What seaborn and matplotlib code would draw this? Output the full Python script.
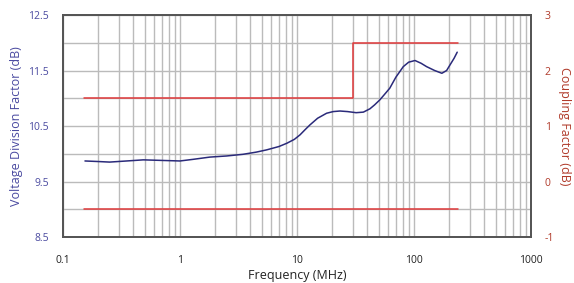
import seaborn as sns
import matplotlib.pyplot as plt
import pandas as pd
from matplotlib.ticker import LogLocator, FixedLocator, NullFormatter

# voltage division factor curve
freq_mhz = [0.154, 0.2, 0.25, 0.35, 0.485, 0.7, 1.0, 1.3, 1.8, 2.5, 3.45, 4.5, 5.5, 7.0,
            8.2, 9.5, 10.6, 11.8, 12.9, 15, 17.9, 20.4, 23.3, 27, 32, 36.9, 42, 46,
            51, 56, 62, 70, 81, 90, 102, 115, 128, 150, 173, 190, 203, 220, 234]
vdf_db = [9.87, 9.86, 9.85, 9.87, 9.89, 9.88, 9.87, 9.90, 9.94, 9.96, 9.99, 10.03, 10.07,
          10.13, 10.19, 10.26, 10.34, 10.44, 10.52, 10.64, 10.73, 10.76, 10.77, 10.76,
          10.74, 10.75, 10.81, 10.88, 10.97, 11.07, 11.18, 11.38, 11.57, 11.65, 11.68,
          11.63, 11.57, 11.50, 11.45, 11.50, 11.60, 11.72, 11.83]

# coupling factor limits
upper_freq = [0.15, 30, 240]
upper_db = [1.5, 2.5, 2.5]
lower_freq = [0.15, 240]
lower_db = [-0.5, -0.5]

blue = "#2a2a7a"
red = "#e0393a"
left_col = "#4a4aa0"
right_col = "#b03a2a"

sns.set_style("white")
plt.rcParams["font.family"] = ["Open Sans", "DejaVu Sans"]
plt.rcParams["axes.unicode_minus"] = False

fig = plt.figure(figsize=(5.74, 2.83), dpi=100)
ax = fig.add_axes([0.1098, 0.1625, 0.8153, 0.7845])
ax2 = ax.twinx()

vdf = pd.DataFrame({"f": freq_mhz, "v": vdf_db})
sns.lineplot(data=vdf, x="f", y="v", ax=ax, color=blue, lw=1.1)
sns.lineplot(x=upper_freq, y=upper_db, ax=ax2, color=red, lw=1.1, drawstyle="steps-post")
sns.lineplot(x=lower_freq, y=lower_db, ax=ax2, color=red, lw=1.1)

ax.set_xscale("log")
ax.set_xlim(0.1, 1000)
ax.set_ylim(8.5, 12.5)
ax2.set_ylim(-1, 3)

ax.xaxis.set_major_locator(FixedLocator([0.1, 1, 10, 100, 1000]))
ax.xaxis.set_minor_locator(LogLocator(base=10, subs=range(2, 10)))
ax.xaxis.set_minor_formatter(NullFormatter())
ax.set_xticklabels(["0.1", "1", "10", "100", "1000"])
ax.set_yticks([8.5, 9.5, 10.5, 11.5, 12.5])
ax.set_yticks([9.0, 10.0, 11.0, 12.0], minor=True)
ax2.set_yticks([-1, 0, 1, 2, 3])

ax.grid(True, which="both", axis="both", color="#bbbbbb", lw=1.0)
ax.set_axisbelow(True)

ax.tick_params(axis="x", which="both", length=0, labelsize=7.5, colors="#222222", pad=13)
ax.tick_params(axis="y", which="both", length=0, labelsize=7.5, labelcolor=left_col, pad=10)
ax2.tick_params(axis="y", length=0, labelsize=7.5, labelcolor=right_col, pad=10)

ax.set_xlabel("Frequency (MHz)", fontsize=9, color="#222222", labelpad=2)
ax.set_ylabel("Voltage Division Factor (dB)", fontsize=9, color=left_col, labelpad=4)
ax2.set_ylabel("")
fig.text(564 / 574, 0.555, "Coupling Factor (dB)", fontsize=9, color=right_col,
         rotation=270, ha="center", va="center")

for a in (ax, ax2):
    for s in a.spines.values():
        s.set_color("#555555")
        s.set_linewidth(1.3)

fig.savefig("out.png", dpi=100)
